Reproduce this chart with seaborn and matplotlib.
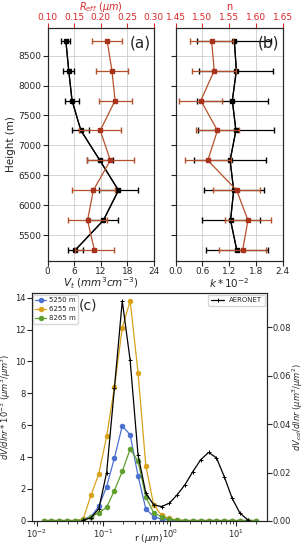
import numpy as np
import matplotlib
matplotlib.use("Agg")
import matplotlib.pyplot as plt
import seaborn as sns

# vertical profiles (panels a, b)
heights = [5250, 5750, 6250, 6750, 7250, 7750, 8250, 8750]
vt = [6.2, 12.6, 16.0, 11.8, 7.5, 5.5, 4.75, 4.1]
vt_err = [1.7, 3.4, 4.5, 3.0, 1.9, 1.5, 1.2, 1.0]
reff = [0.188, 0.175, 0.186, 0.218, 0.199, 0.227, 0.221, 0.212]
reff_err = [0.036, 0.036, 0.040, 0.044, 0.040, 0.031, 0.030, 0.028]
k_im = [1.37, 1.23, 1.30, 1.22, 1.35, 1.27, 1.36, 1.315]
k_err = [0.70, 0.65, 0.67, 0.81, 0.85, 0.80, 0.83, 0.83]
n_re = [1.575, 1.585, 1.564, 1.510, 1.528, 1.497, 1.522, 1.517]
n_err = [0.044, 0.043, 0.044, 0.043, 0.041, 0.040, 0.041, 0.040]

# size distributions (panel c), log-spaced radius bins
r_lidar = [0.0128, 0.0167, 0.0220, 0.0288, 0.0381, 0.050, 0.0656, 0.0861, 0.113,
           0.148, 0.194, 0.255, 0.335, 0.439, 0.576, 0.756, 0.992, 1.302, 1.708,
           2.241, 2.940, 3.857, 5.061, 6.641, 8.713, 11.432, 15.0, 19.7]
dv_5250 = [0.02, 0.02, 0.02, 0.02, 0.02, 0.10, 0.27, 0.90, 2.15, 3.95, 5.95, 5.40,
           2.82, 0.75, 0.27, 0.10, 0.05, 0.02, 0.02, 0.02, 0.02, 0.02, 0.02, 0.02,
           0.02, 0.02, 0.02, 0.02]
dv_6255 = [0.02, 0.02, 0.02, 0.02, 0.02, 0.10, 1.60, 2.95, 5.30, 8.40, 12.10, 13.80,
           9.30, 3.45, 1.00, 0.35, 0.15, 0.05, 0.02, 0.02, 0.02, 0.02, 0.02, 0.02,
           0.02, 0.02, 0.02, 0.02]
dv_8265 = [0.02, 0.02, 0.02, 0.02, 0.02, 0.05, 0.25, 0.50, 0.85, 1.90, 3.10, 4.50,
           3.75, 1.50, 0.50, 0.25, 0.10, 0.05, 0.02, 0.02, 0.02, 0.02, 0.02, 0.02,
           0.02, 0.02, 0.02, 0.02]
r_aeronet = [0.050, 0.0656, 0.0861, 0.113, 0.148, 0.194, 0.255, 0.335, 0.439, 0.576,
             0.756, 0.992, 1.302, 1.708, 2.241, 2.940, 3.857, 5.061, 6.641, 8.713,
             11.432, 15.0]
dv_aeronet = [0.0003, 0.0012, 0.0050, 0.0200, 0.0550, 0.0910, 0.0664, 0.0273, 0.0115,
              0.0066, 0.0059, 0.0073, 0.0108, 0.0150, 0.0204, 0.0253, 0.0283, 0.0261,
              0.0183, 0.0094, 0.0032, 0.0004]
lidar_labels = ["5250 m", "6255 m", "8265 m"]
lidar_colors = ["#4a6fd0", "#d9a21b", "#5f9e30"]

sns.set_style("ticks")
plt.rcParams["font.family"] = ["DejaVu Sans"]
plt.rcParams["font.size"] = 7

red = "#d62728"
brown = "#b5512a"

fig = plt.figure(figsize=(3.04, 5.5), dpi=100)
ax_a = fig.add_axes([0.157, 0.526, 0.349, 0.423])
ax_b = fig.add_axes([0.578, 0.526, 0.352, 0.423])
ax_c = fig.add_axes([0.104, 0.053, 0.773, 0.414])


def profile(ax, xb, xb_err, xt, xt_err, xlim_b, xlim_t, ticks_b, ticks_t, fmt_t,
            label_b, label_t, tag):
    ax.grid(True, color="#cccccc", lw=0.6)
    ax.set_axisbelow(True)
    ax.errorbar(xb, heights, xerr=xb_err, color="black", capsize=2.5, lw=0.9,
                elinewidth=0.9, marker="s", ms=3.5, zorder=3)
    sns.lineplot(x=xb, y=heights, orient="y", sort=False, color="black", lw=0.9,
                 linestyle="-", ax=ax, zorder=3)
    ax.set_xlim(*xlim_b)
    ax.set_xticks(ticks_b)
    ax.set_ylim(5075, 8960)
    ax.set_yticks([5500, 6000, 6500, 7000, 7500, 8000, 8500])
    ax.set_xlabel(label_b, fontsize=7.5, labelpad=0)
    top = ax.twiny()
    top.errorbar(xt, heights, xerr=xt_err, color=brown, ecolor=brown, capsize=2.5,
                 lw=0.9, elinewidth=0.9, marker="s", ms=3.5, mfc="#a8321c",
                 mec="#a8321c", zorder=2)
    top.set_xlim(*xlim_t)
    top.set_xticks(ticks_t)
    top.set_xticklabels([fmt_t.format(v) for v in ticks_t], color=red)
    top.set_xlabel(label_t, color=red, fontsize=7, labelpad=2.2)
    top.tick_params(axis="x", colors=red, labelsize=6.5, pad=1)
    ax.tick_params(labelsize=6.5, pad=1)
    ax.text(0.97, 0.97, tag, transform=ax.transAxes, ha="right", va="top", fontsize=11)
    return top


profile(ax_a, vt, vt_err, reff, reff_err, (0, 24), (0.10, 0.30),
        [0, 6, 12, 18, 24], [0.10, 0.15, 0.20, 0.25, 0.30], "{:.2f}",
        r"$V_t\ (mm^3cm^{-3})$", r"$R_{eff}\ (\mu m)$", "(a)")
ax_a.set_ylabel("Height (m)", fontsize=7.5, labelpad=2)

profile(ax_b, k_im, k_err, n_re, n_err, (0, 2.4), (1.45, 1.65),
        [0.0, 0.6, 1.2, 1.8, 2.4], [1.45, 1.50, 1.55, 1.60, 1.65], "{:.2f}",
        r"$k*10^{-2}$", "n", "(b)")
ax_b.set_yticklabels([])
ax_b.set_ylabel("")

# panel c
for dv, lab, col in zip([dv_5250, dv_6255, dv_8265], lidar_labels, lidar_colors):
    sns.lineplot(x=r_lidar, y=dv, color=col, marker="o", ms=3.2, mec=col, lw=0.9,
                 linestyle="-", label=lab, ax=ax_c)
ax_c.set_xscale("log")
ax_c.set_xlim(0.0084, 28.8)
ax_c.set_ylim(0, 14.28)
ax_c.set_yticks([0, 2, 4, 6, 8, 10, 12, 14])
ax_c.set_xlabel(r"r $(\mu m)$", fontsize=6.5)
ax_c.xaxis.set_label_coords(0.5, -0.05)
ax_c.set_ylabel(r"$dV/dlnr*10^{-3}\ (\mu m^3/\mu m^3)$", fontsize=6)
ax_c.yaxis.set_label_coords(-0.078, 0.5)
ax_c.tick_params(labelsize=6, pad=1)
ax_c.legend(loc="upper left", fontsize=5, handlelength=1.5, borderpad=0.35,
            labelspacing=0.45, handletextpad=0.4, frameon=True, borderaxespad=0.2)
ax_c.text(0.2, 0.975, "(c)", transform=ax_c.transAxes, ha="left", va="top",
          fontsize=10)

ax_r = ax_c.twinx()
ax_r.plot(r_aeronet, dv_aeronet, color="black", marker="+", ms=3.5, mew=0.7,
          lw=0.9, ls="-", label="AERONET")
ax_r.set_ylim(0, 0.0942)
ax_r.set_yticks([0.00, 0.02, 0.04, 0.06, 0.08])
ax_r.set_yticklabels(["0.00", "0.02", "0.04", "0.06", "0.08"])
ax_r.set_ylabel(r"$dV_{col}/dlnr\ (\mu m^3/\mu m^2)$", fontsize=6)
ax_r.yaxis.set_label_coords(1.1, 0.5)
ax_r.tick_params(labelsize=6, pad=1)
ax_r.legend(loc="upper right", fontsize=5, handlelength=1.8, borderpad=0.4,
            borderaxespad=0.2)

fig.savefig("out.png", dpi=100)
